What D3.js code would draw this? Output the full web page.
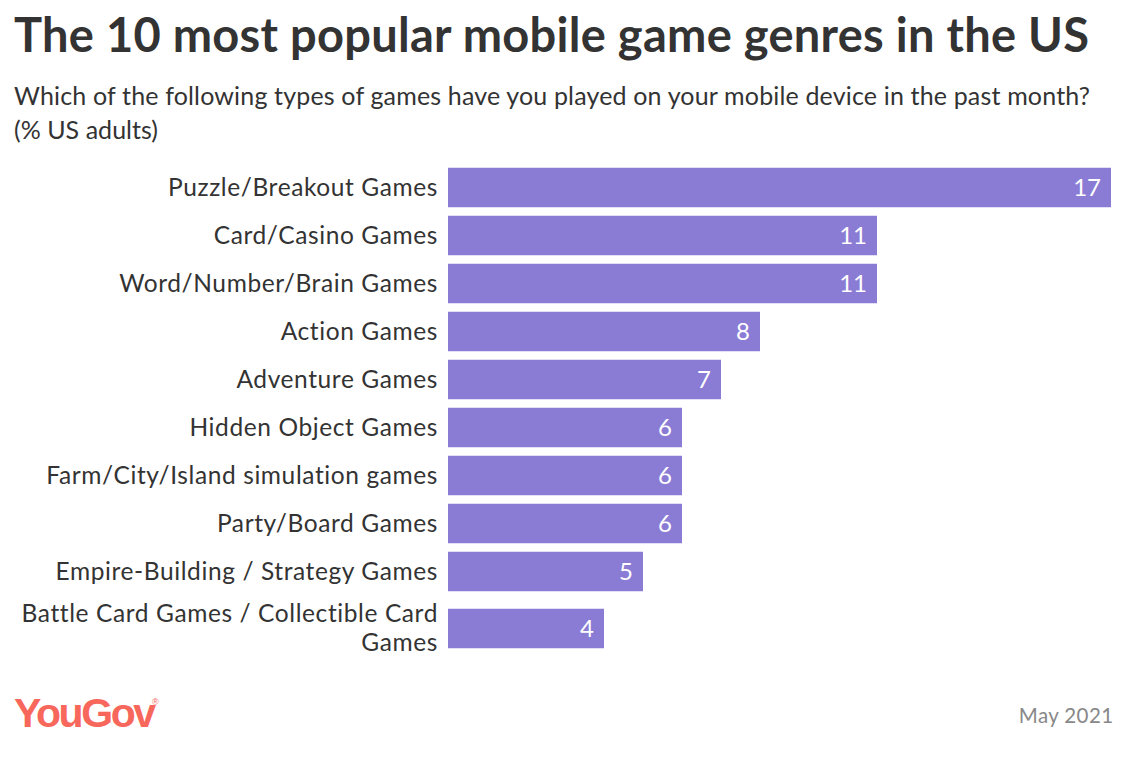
<!DOCTYPE html>
<html>
<head>
<meta charset="utf-8">
<script src="https://cdn.jsdelivr.net/npm/d3@7"></script>
<style>
body { margin: 0; background: #fff; }
text { font-family: Lato, sans-serif; }
</style>
</head>
<body>
<div id="chart"></div>
<script>
let categories = ["Puzzle/Breakout Games", "Card/Casino Games", "Word/Number/Brain Games", "Action Games", "Adventure Games", "Hidden Object Games", "Farm/City/Island simulation games", "Party/Board Games", "Empire-Building / Strategy Games", "Battle Card Games / Collectible Card Games"];
let values = [17, 11, 11, 8, 7, 6, 6, 6, 5, 4];
// last label wraps on two lines, so its row is taller
let labelLines = [["Puzzle/Breakout Games"], ["Card/Casino Games"], ["Word/Number/Brain Games"], ["Action Games"], ["Adventure Games"], ["Hidden Object Games"], ["Farm/City/Island simulation games"], ["Party/Board Games"], ["Empire-Building / Strategy Games"], ["Battle Card Games / Collectible Card", "Games"]];

let width = 1134, height = 762;
let barHeight = 39.5;
let rowHeight = 48;
let lineExtra = 18;

let svg = d3.select("#chart").append("svg").attr("width", width).attr("height", height).style("display", "block");

svg.append("text").attr("x", 14).attr("y", 52).attr("font-size", 47).attr("font-weight", 700).attr("fill", "#333").attr("textLength", 1075).attr("lengthAdjust", "spacing").text("The 10 most popular mobile game genres in the US");
svg.append("text").attr("x", 14).attr("y", 105).attr("font-size", 25).attr("fill", "#333").attr("textLength", 1076).attr("lengthAdjust", "spacing").text("Which of the following types of games have you played on your mobile device in the past month?");
svg.append("text").attr("x", 14).attr("y", 139).attr("font-size", 25).attr("fill", "#333").attr("textLength", 144).attr("lengthAdjust", "spacing").text("(% US adults)");

let x = d3.scaleLinear().domain([0, 17]).range([448, 1111]);

// row tops, running sum of row heights
let top0 = 163.5;
let rowTops = [];
labelLines.reduce((acc, l) => { rowTops.push(acc); return acc + rowHeight + (l.length - 1) * lineExtra; }, top0);
let rowCentre = i => rowTops[i] + (rowHeight + (labelLines[i].length - 1) * lineExtra) / 2;

svg.selectAll("rect.bar").data(values).enter().append("rect").attr("class", "bar")
  .attr("x", x(0)).attr("y", (d, i) => rowCentre(i) - barHeight / 2)
  .attr("width", d => x(d) - x(0)).attr("height", barHeight).attr("fill", "#8a7bd5");

svg.selectAll("text.val").data(values).enter().append("text").attr("class", "val")
  .attr("x", d => x(d) - 10).attr("y", (d, i) => rowCentre(i) + 8)
  .attr("text-anchor", "end").attr("font-size", 24).attr("fill", "#fff").text(d => d);

labelLines.forEach((lines, i) => {
  let cy = rowCentre(i);
  lines.forEach((l, j) => {
    svg.append("text").attr("class", "lab").attr("x", 438)
      .attr("y", cy + 8 + (j - (lines.length - 1) / 2) * 29)
      .attr("text-anchor", "end").attr("font-size", 24.5)
      .attr("letter-spacing", 0.6).attr("fill", "#333").text(l);
  });
});

svg.append("text").attr("x", 14).attr("y", 727).attr("font-size", 41).attr("font-weight", 700).attr("fill", "#f7675b").attr("letter-spacing", -2.4).style("font-family", "Liberation Sans").text("YouGov");
svg.append("text").attr("x", 152).attr("y", 705).attr("font-size", 9).attr("fill", "#f7675b").style("font-family", "Liberation Sans").text("®");
svg.append("text").attr("x", 1113.5).attr("y", 723).attr("text-anchor", "end").attr("font-size", 20.5).attr("letter-spacing", 0.4).attr("fill", "#888").text("May 2021");
</script>
</body>
</html>
